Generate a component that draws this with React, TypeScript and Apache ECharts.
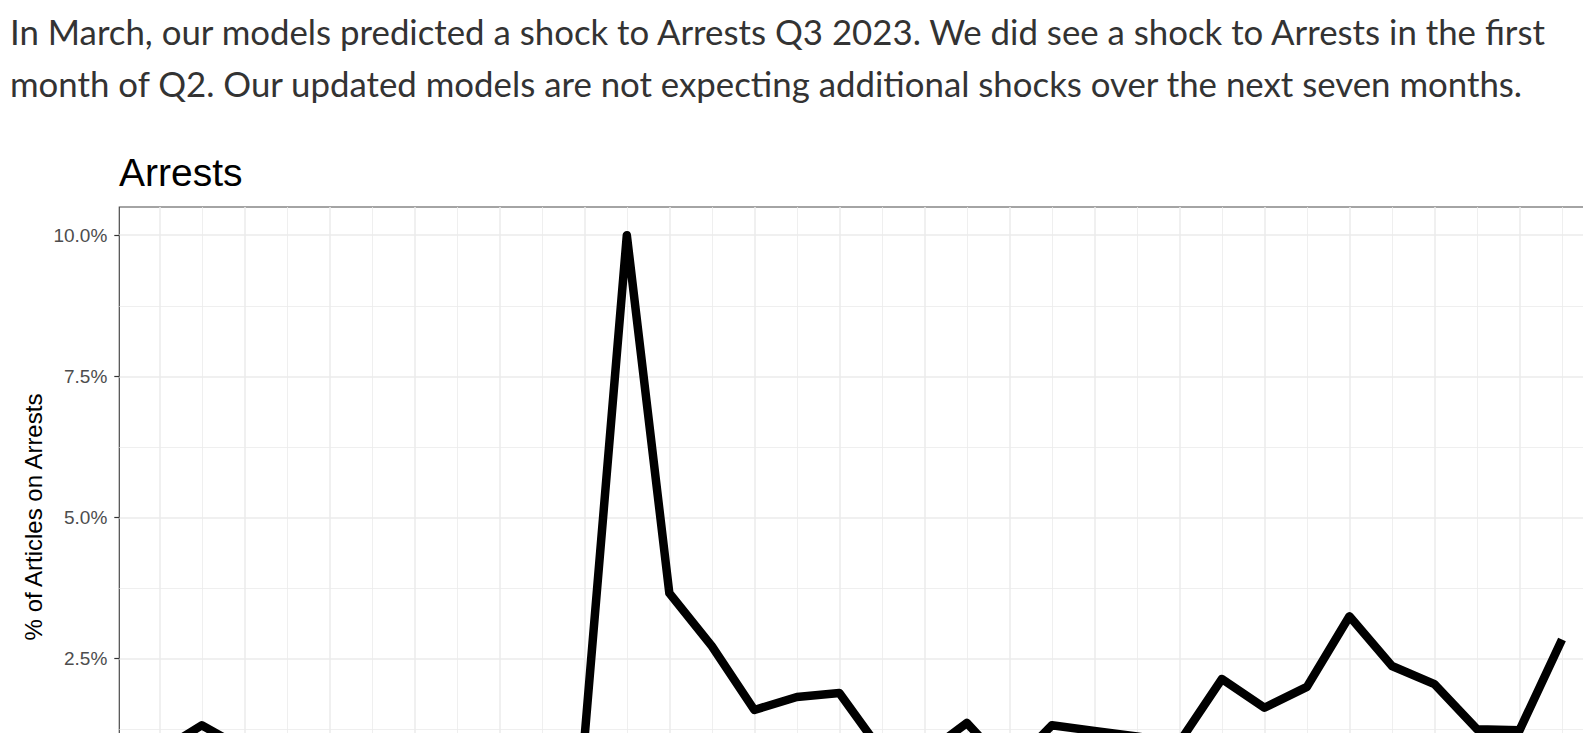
import React, { useEffect, useRef } from "react";
import * as echarts from "echarts";

const headline1 =
  "In March, our models predicted a shock to Arrests Q3 2023. We did see a shock to Arrests in the first";
const headline2 =
  "month of Q2. Our updated models are not expecting additional shocks over the next seven months.";
const panelTitle = "Arrests";
const yAxisTitle = "% of Articles on Arrests";

// monthly periods (index along the x axis)
const periods = [
  0, 1, 2, 3, 4, 5, 6, 7, 8, 9, 10, 11, 12, 13, 14, 15, 16, 17, 18, 19, 20, 21,
  22, 23, 24, 25, 26, 27, 28, 29, 30, 31, 32, 33,
];
// % of articles on Arrests
const arrestsShare = [
  0.85, 1.32, 0.9, 0.7, 0.9, 0.6, 0.8, 0.5, 0.75, 0.65, 1.05, 10.0, 3.66, 2.72,
  1.59, 1.82, 1.89, 0.85, 0.8, 1.36, 0.55, 1.32, 1.22, 1.12, 1.02, 2.14, 1.63,
  2.0, 3.25, 2.37, 2.05, 1.25, 1.23, 2.84,
];

// tick labels visible in the picture
const yLabelTicks = [2.5, 5, 7.5, 10];
const yMajorTicks = [0, 2.5, 5, 7.5, 10];
const yMinorTicks = [1.25, 3.75, 6.25, 8.75];
const xGridTicks = [
  0, 1, 2, 3, 4, 5, 6, 7, 8, 9, 10, 11, 12, 13, 14, 15, 16, 17, 18, 19, 20, 21,
  22, 23, 24, 25, 26, 27, 28, 29, 30, 31, 32, 33, 34,
];
const xMajorTicks = xGridTicks.filter((v) => v % 2 === 0);
const xMinorTicks = xGridTicks.filter((v) => v % 2 === 1);

const SANS = "'Liberation Sans', Arial, Helvetica, sans-serif";

export default function App() {
  const ref = useRef<HTMLDivElement>(null);

  useEffect(() => {
    if (!ref.current) return;
    const chart = echarts.init(ref.current, undefined, { renderer: "svg" });

    const X_MIN = -0.94;
    const X_MAX = 35;
    const Y_MIN = -0.5;
    const Y_MAX = 10.5;

    const hiddenAxisBits = {
      axisLine: { show: false, onZero: false },
      axisLabel: { show: false },
    };

    chart.setOption({
      animation: false,
      backgroundColor: "#ffffff",
      grid: {
        left: 119.3,
        top: 207,
        right: 0,
        bottom: 0,
        show: true,
        borderColor: "#4a4a4a",
        borderWidth: 1.2,
        backgroundColor: "transparent",
      },
      xAxis: [
        {
          type: "value",
          min: X_MIN,
          max: X_MAX,
          position: "bottom",
          ...hiddenAxisBits,
          axisTick: { show: false, customValues: xMajorTicks },
          splitLine: { show: true, lineStyle: { color: "#ebebeb", width: 1.5 } },
        },
        {
          type: "value",
          min: X_MIN,
          max: X_MAX,
          position: "bottom",
          ...hiddenAxisBits,
          axisTick: { show: false, customValues: xMinorTicks },
          splitLine: { show: true, lineStyle: { color: "#ebebeb", width: 0.8 } },
        },
      ],
      yAxis: [
        {
          type: "value",
          min: Y_MIN,
          max: Y_MAX,
          position: "left",
          axisLine: { show: false, onZero: false },
          axisTick: {
            show: true,
            customValues: yMajorTicks,
            length: 5,
            lineStyle: { color: "#333333", width: 1.2 },
          },
          axisLabel: {
            show: true,
            customValues: yLabelTicks,
            margin: 12,
            color: "#4d4d4d",
            fontSize: 19,
            fontFamily: SANS,
            formatter: (v: number) => v.toFixed(1) + "%",
          },
          splitLine: { show: true, lineStyle: { color: "#ebebeb", width: 1.5 } },
        },
        {
          type: "value",
          min: Y_MIN,
          max: Y_MAX,
          position: "left",
          ...hiddenAxisBits,
          axisTick: { show: false, customValues: yMinorTicks },
          splitLine: { show: true, lineStyle: { color: "#ebebeb", width: 0.8 } },
        },
      ],
      graphic: [
        {
          type: "text",
          x: 10,
          y: 31,
          style: {
            text: headline1,
            font: "34.8px Lato",
            fill: "#333333",
            textAlign: "left",
            textVerticalAlign: "middle",
          },
        },
        {
          type: "text",
          x: 10,
          y: 83.5,
          style: {
            text: headline2,
            font: "34.8px Lato",
            fill: "#333333",
            textAlign: "left",
            textVerticalAlign: "middle",
          },
        },
        {
          type: "text",
          x: 119,
          y: 172.5,
          style: {
            text: panelTitle,
            font: "39px " + SANS,
            fill: "#000000",
            textAlign: "left",
            textVerticalAlign: "middle",
          },
        },
        {
          type: "text",
          x: 33,
          y: 517,
          rotation: Math.PI / 2,
          style: {
            text: yAxisTitle,
            font: "24px " + SANS,
            fill: "#000000",
            textAlign: "center",
            textVerticalAlign: "middle",
          },
        },
      ],
      series: [
        {
          type: "line",
          xAxisIndex: 0,
          yAxisIndex: 0,
          data: periods.map((p, i) => [p, arrestsShare[i]]),
          showSymbol: false,
          symbol: "none",
          clip: true,
          z: 5,
          lineStyle: { color: "#000000", width: 8.5, join: "round", cap: "butt" },
        },
      ],
    });

    return () => chart.dispose();
  }, []);

  return (
    <div
      style={{
        position: "absolute",
        left: 0,
        top: 0,
        width: 1583,
        height: 733,
        overflow: "hidden",
      }}
    >
      <div ref={ref} style={{ width: 1647, height: 828 }} />
    </div>
  );
}
